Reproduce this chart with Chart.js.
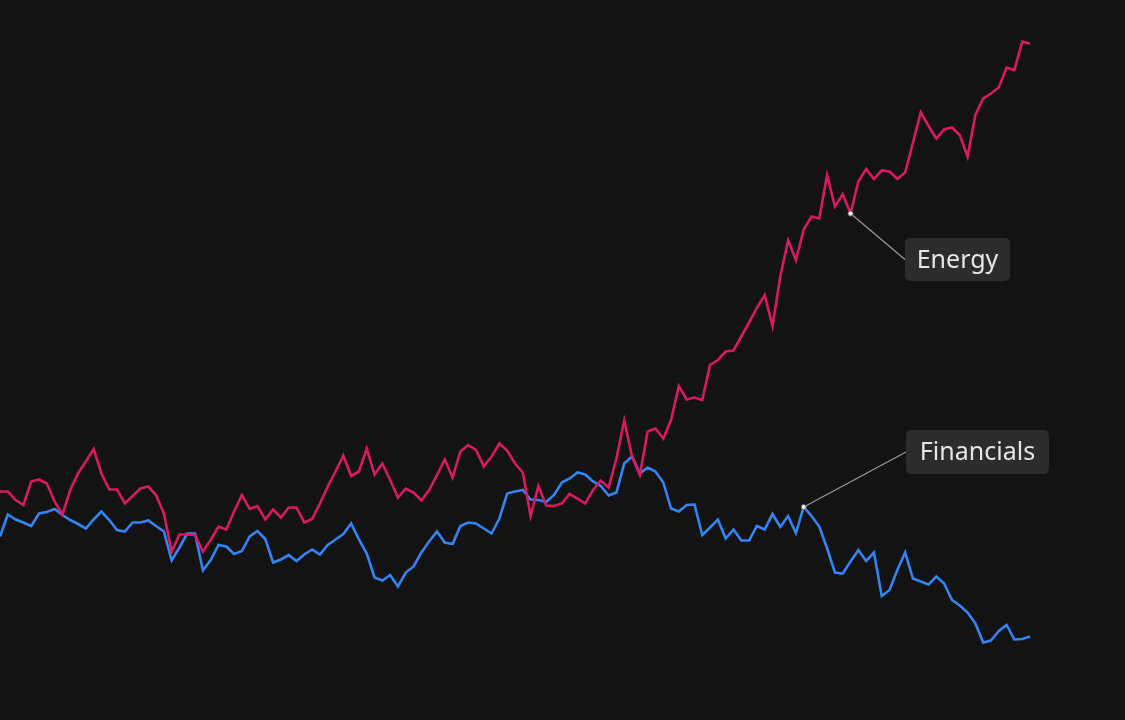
<!DOCTYPE html>
<html>
<head>
<meta charset="utf-8">
<script src="https://cdn.jsdelivr.net/npm/chart.js"></script>
<style>
  html, body { margin: 0; padding: 0; background: #131313; }
  #wrap { width: 1125px; height: 720px; }
</style>
</head>
<body>
<div id="wrap"><canvas id="chart"></canvas></div>
<script>
// weekly periods, 133 points
const periods = Array.from({ length: 133 }, (_, i) => "W" + (i + 1));

const energy = [
  41.7, 41.7, 40.0, 39.0, 43.7, 44.1, 43.3, 39.7, 37.1, 42.0,
  45.3, 47.7, 50.2, 45.3, 42.1, 42.1, 39.3, 40.8, 42.3, 42.7,
  41.0, 37.3, 29.7, 33.1, 33.1, 33.0, 29.7, 32.0, 34.7, 34.1,
  37.7, 41.0, 38.2, 38.8, 36.1, 38.1, 36.5, 38.5, 38.5, 35.5,
  36.2, 39.3, 42.7, 45.7, 48.9, 44.8, 45.7, 50.3, 45.1, 47.3,
  44.0, 40.5, 42.3, 41.5, 39.9, 42.0, 45.0, 48.1, 44.5, 49.7,
  51.0, 50.0, 46.7, 48.7, 51.3, 49.9, 47.3, 45.5, 36.8, 42.8,
  38.9, 38.8, 39.3, 41.2, 40.3, 39.3, 42.0, 43.9, 42.5, 48.3,
  55.9, 48.7, 45.0, 53.7, 54.3, 52.3, 56.0, 62.8, 60.1, 60.5,
  60.0, 67.0, 68.0, 69.7, 69.9, 72.7, 75.5, 78.4, 81.0, 74.8,
  84.7, 91.9, 88.0, 94.1, 96.7, 96.3, 105.0, 98.7, 101.2, 97.3,
  103.7, 106.2, 104.2, 105.9, 105.7, 104.2, 105.5, 111.5, 117.5, 114.8,
  112.3, 114.1, 114.5, 113.0, 108.7, 117.0, 120.3, 121.3, 122.5, 126.5,
  126.0, 131.7, 131.3
];

const financials = [
  32.7, 37.1, 36.1, 35.5, 34.8, 37.3, 37.6, 38.2, 37.0, 36.0,
  35.2, 34.3, 36.1, 37.7, 36.0, 34.0, 33.7, 35.5, 35.5, 35.9,
  34.8, 33.7, 27.9, 30.5, 33.3, 33.3, 25.9, 28.0, 31.0, 30.7,
  29.2, 29.8, 32.7, 33.8, 32.2, 27.5, 28.1, 29.0, 27.8, 29.1,
  30.1, 29.1, 31.0, 32.1, 33.2, 35.3, 32.1, 29.3, 24.5, 23.9,
  25.0, 22.7, 25.5, 26.7, 29.5, 31.7, 33.7, 31.5, 31.2, 34.8,
  35.5, 35.3, 34.3, 33.3, 36.3, 41.3, 41.7, 42.0, 40.1, 40.0,
  39.6, 41.0, 43.5, 44.3, 45.5, 45.1, 43.7, 42.8, 40.9, 41.5,
  47.3, 48.7, 45.3, 46.5, 45.7, 43.5, 38.3, 37.7, 39.0, 39.1,
  33.0, 34.5, 36.1, 32.3, 34.1, 31.9, 31.9, 34.8, 34.1, 37.2,
  34.6, 36.8, 33.4, 38.6, 36.8, 34.7, 30.3, 25.5, 25.3, 27.7,
  30.0, 27.8, 29.5, 20.8, 22.0, 26.0, 29.5, 24.3, 23.7, 23.1,
  24.7, 23.3, 20.0, 18.9, 17.5, 15.3, 11.5, 11.9, 13.8, 15.0,
  12.1, 12.2, 12.7
];

// callouts: series, point index, box position
const callouts = [
  { dataset: 0, index: 109, text: "Energy", x: 905, y: 238, w: 105, h: 43 },
  { dataset: 1, index: 103, text: "Financials", x: 906, y: 430, w: 143, h: 44 }
];

const calloutPlugin = {
  id: "callouts",
  afterDatasetsDraw(chart) {
    const ctx = chart.ctx;
    ctx.save();
    ctx.font = "25px 'Noto Sans', 'Open Sans', sans-serif";
    callouts.forEach(c => {
      const pt = chart.getDatasetMeta(c.dataset).data[c.index];

      // leader line
      ctx.strokeStyle = "#9a9a9a";
      ctx.lineWidth = 1.2;
      ctx.beginPath();
      ctx.moveTo(pt.x, pt.y);
      ctx.lineTo(c.x, c.y + c.h / 2);
      ctx.stroke();

      // dot
      ctx.fillStyle = "#f0f0f0";
      ctx.strokeStyle = "#555";
      ctx.lineWidth = 1;
      ctx.beginPath();
      ctx.arc(pt.x, pt.y, 2.6, 0, Math.PI * 2);
      ctx.fill();
      ctx.stroke();

      // box
      ctx.fillStyle = "#2c2c2c";
      ctx.beginPath();
      ctx.roundRect(c.x, c.y, c.w, c.h, 5);
      ctx.fill();

      ctx.fillStyle = "#e6e6e6";
      ctx.textBaseline = "middle";
      ctx.textAlign = "center";
      ctx.fillText(c.text, c.x + c.w / 2, c.y + c.h / 2 + 1);
    });
    ctx.restore();
  }
};

new Chart(document.getElementById("chart"), {
  type: "line",
  data: {
    labels: periods,
    datasets: [
      {
        label: "Energy",
        data: energy,
        borderColor: "#d81b60",
        borderWidth: 2.6,
        pointRadius: 0,
        tension: 0
      },
      {
        label: "Financials",
        data: financials,
        borderColor: "#3384f4",
        borderWidth: 2.6,
        pointRadius: 0,
        tension: 0
      }
    ]
  },
  options: {
    responsive: true,
    maintainAspectRatio: false,
    animation: false,
    layout: { padding: { left: 0, right: 95, top: 0, bottom: 0 } },
    plugins: {
      legend: { display: false },
      tooltip: { enabled: false }
    },
    scales: {
      x: { display: false, offset: false },
      y: { display: false, min: -4, max: 140 }
    }
  },
  plugins: [calloutPlugin]
});
</script>
</body>
</html>
